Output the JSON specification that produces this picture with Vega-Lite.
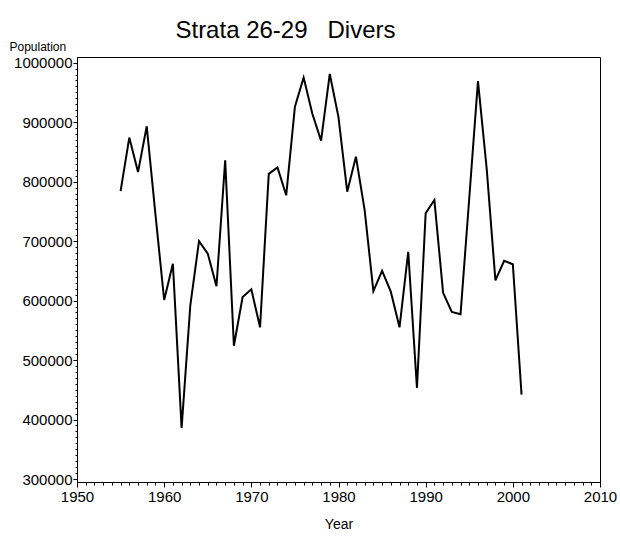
{
  "$schema": "https://vega.github.io/schema/vega-lite/v6.json",
  "autosize": "none",
  "width": 523,
  "height": 425,
  "padding": {"left": 77, "top": 57, "right": 20, "bottom": 57},
  "background": "white",
  "config": {
    "view": {"stroke": "black", "strokeWidth": 1},
    "font": "Liberation Sans",
    "axis": {"labelFont": "Liberation Sans", "titleFont": "Liberation Sans", "domainColor": "black", "tickColor": "black", "labelColor": "black", "titleColor": "black", "titleFontWeight": "normal", "grid": false}
  },
  "title": {"text": "Strata 26-29\u00a0\u00a0\u00a0Divers", "fontSize": 24, "fontWeight": "normal", "font": "Liberation Sans", "anchor": "middle", "dx": -53, "dy": 3, "offset": 0, "color": "black"},
  "data": {"values": [
    {"Year": 1955, "Population": 784000},
    {"Year": 1956, "Population": 874000},
    {"Year": 1957, "Population": 816000},
    {"Year": 1958, "Population": 893000},
    {"Year": 1959, "Population": 745000},
    {"Year": 1960, "Population": 601000},
    {"Year": 1961, "Population": 662000},
    {"Year": 1962, "Population": 386000},
    {"Year": 1963, "Population": 592000},
    {"Year": 1964, "Population": 700000},
    {"Year": 1965, "Population": 679000},
    {"Year": 1966, "Population": 624000},
    {"Year": 1967, "Population": 836000},
    {"Year": 1968, "Population": 524000},
    {"Year": 1969, "Population": 606000},
    {"Year": 1970, "Population": 619000},
    {"Year": 1971, "Population": 555000},
    {"Year": 1972, "Population": 813000},
    {"Year": 1973, "Population": 824000},
    {"Year": 1974, "Population": 777000},
    {"Year": 1975, "Population": 926000},
    {"Year": 1976, "Population": 975000},
    {"Year": 1977, "Population": 914000},
    {"Year": 1978, "Population": 869000},
    {"Year": 1979, "Population": 981000},
    {"Year": 1980, "Population": 908000},
    {"Year": 1981, "Population": 783000},
    {"Year": 1982, "Population": 842000},
    {"Year": 1983, "Population": 752000},
    {"Year": 1984, "Population": 616000},
    {"Year": 1985, "Population": 650000},
    {"Year": 1986, "Population": 615000},
    {"Year": 1987, "Population": 555000},
    {"Year": 1988, "Population": 682000},
    {"Year": 1989, "Population": 453000},
    {"Year": 1990, "Population": 747000},
    {"Year": 1991, "Population": 769000},
    {"Year": 1992, "Population": 613000},
    {"Year": 1993, "Population": 581000},
    {"Year": 1994, "Population": 577000},
    {"Year": 1995, "Population": 772000},
    {"Year": 1996, "Population": 969000},
    {"Year": 1997, "Population": 822000},
    {"Year": 1998, "Population": 634000},
    {"Year": 1999, "Population": 667000},
    {"Year": 2000, "Population": 661000},
    {"Year": 2001, "Population": 442000}
  ]},
  "resolve": {"axis": {"x": "independent", "y": "independent"}},
  "layer": [
    {
      "mark": {"type": "line", "color": "black", "strokeWidth": 0, "opacity": 0},
      "encoding": {
        "x": {"field": "Year", "type": "quantitative", "scale": {"domain": [1950, 2010], "nice": false, "zero": false},
              "axis": {"orient": "bottom", "values": [1950,1951,1952,1953,1954,1955,1956,1957,1958,1959,1960,1961,1962,1963,1964,1965,1966,1967,1968,1969,1970,1971,1972,1973,1974,1975,1976,1977,1978,1979,1980,1981,1982,1983,1984,1985,1986,1987,1988,1989,1990,1991,1992,1993,1994,1995,1996,1997,1998,1999,2000,2001,2002,2003,2004,2005,2006,2007,2008,2009,2010], "labels": false, "title": null, "domain": false, "tickSize": 3}},
        "y": {"field": "Population", "type": "quantitative", "scale": {"domain": [295000, 1009500], "nice": false, "zero": false},
              "axis": {"orient": "left", "values": [300000,310000,320000,330000,340000,350000,360000,370000,380000,390000,400000,410000,420000,430000,440000,450000,460000,470000,480000,490000,500000,510000,520000,530000,540000,550000,560000,570000,580000,590000,600000,610000,620000,630000,640000,650000,660000,670000,680000,690000,700000,710000,720000,730000,740000,750000,760000,770000,780000,790000,800000,810000,820000,830000,840000,850000,860000,870000,880000,890000,900000,910000,920000,930000,940000,950000,960000,970000,980000,990000,1000000], "labels": false, "title": null, "domain": false, "tickSize": 2}}
      }
    },
    {
      "mark": {"type": "line", "color": "black", "strokeWidth": 2},
      "encoding": {
        "x": {"field": "Year", "type": "quantitative",
              "axis": {"orient": "bottom", "values": [1950, 1960, 1970, 1980, 1990, 2000, 2010], "format": "d", "tickSize": 5, "labelFontSize": 15, "labelPadding": 2, "title": "Year", "titleFontSize": 14, "titlePadding": 13, "labelOverlap": false, "labelFlush": false}},
        "y": {"field": "Population", "type": "quantitative",
              "axis": {"orient": "left", "values": [300000, 400000, 500000, 600000, 700000, 800000, 900000, 1000000], "format": "d", "tickSize": 4, "labelFontSize": 15, "labelPadding": 1, "labelOverlap": false, "labelFlush": false, "title": "Population", "titleFontSize": 12, "titleAngle": 0, "titleAlign": "left", "titleBaseline": "alphabetic", "titleX": -68, "titleY": -7}}
      }
    }
  ]
}
